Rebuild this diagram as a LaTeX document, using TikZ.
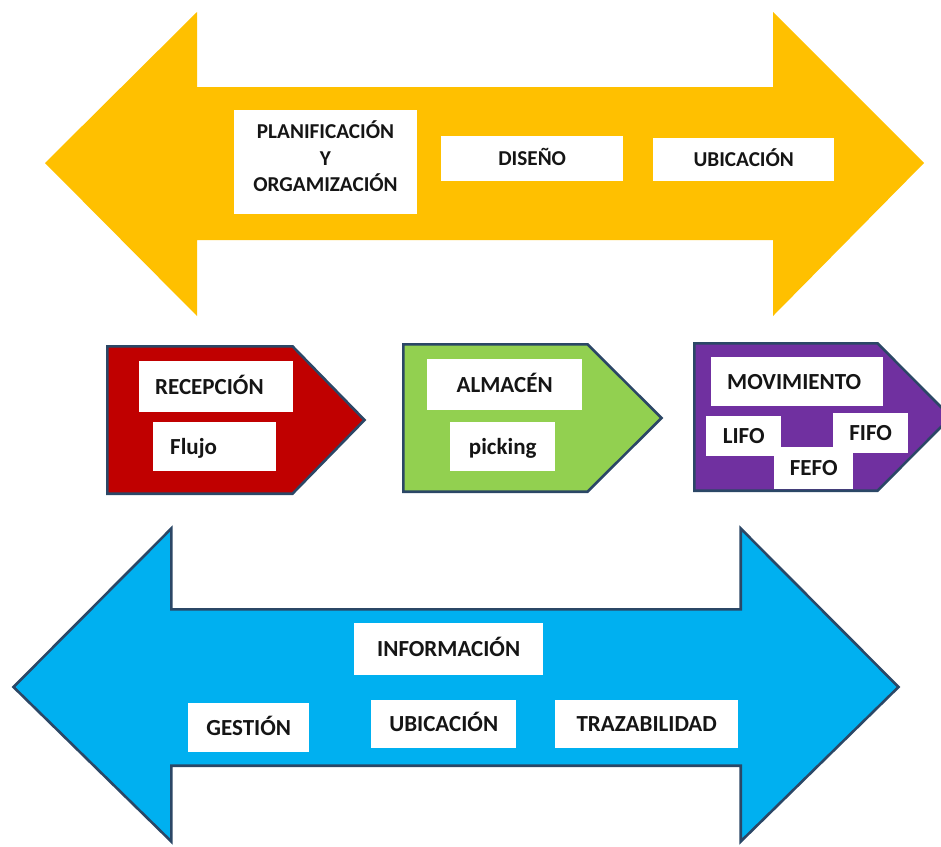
\documentclass[tikz,border=0pt]{standalone}
\usepackage{fontspec}
\setmainfont{Carlito}
\definecolor{amber}{HTML}{FFC000}
\definecolor{crimson}{HTML}{C00000}
\definecolor{leaf}{HTML}{92D050}
\definecolor{violet}{HTML}{7030A0}
\definecolor{sky}{HTML}{00B0F0}
\definecolor{outl}{HTML}{2B4766}
\definecolor{ink}{HTML}{151515}
\begin{document}
\begin{tikzpicture}[x=1pt,y=-1pt,
  edge/.style={draw=outl, line width=2.6pt, line join=miter},
  wbox/.style={fill=white, inner sep=0pt, anchor=north west,
    font=\bfseries\fontsize{23}{28}\selectfont, text=ink,
    text height=14.6pt, text depth=0pt},
  smallbox/.style={wbox, font=\bfseries\fontsize{21.2}{26.5}\selectfont,
    text height=13.6pt},
  lbox/.style 2 args={wbox, inner xsep=#1, text width=#2, align=left},
  label/.style={inner sep=0pt, font=\bfseries\fontsize{21.2}{26.5}\selectfont,
    text=ink, align=center}]
\useasboundingbox (0,0) rectangle (941,846);

% top double arrow
\fill[amber] (45,163) -- (197,12) -- (197,87) -- (773,87) -- (773,12)
  -- (924,163) -- (773,316) -- (773,240) -- (197,240) -- (197,316) -- cycle;

% bottom double arrow
\path[edge, fill=sky] (13.5,687) -- (171.3,528.5) -- (171.3,609.3) -- (740.7,609.3)
  -- (740.7,528.5) -- (898.5,687) -- (740.7,841.5) -- (740.7,765.7)
  -- (171.3,765.7) -- (171.3,841.5) -- cycle;

% process pentagons
\path[edge, fill=crimson] (107.3,346.3) -- (292.5,346.3) -- (364.5,420)
  -- (292.5,493.7) -- (107.3,493.7) -- cycle;
\path[edge, fill=leaf] (403.3,344.3) -- (587.5,344.3) -- (661.5,418)
  -- (587.5,491.7) -- (403.3,491.7) -- cycle;
\path[edge, fill=violet] (694.3,343.3) -- (877.5,343.3) -- (951,417)
  -- (877.5,490.7) -- (694.3,490.7) -- cycle;

% labels on the top arrow
\node[smallbox, minimum width=183, minimum height=104] (plan) at (234,110) {};
\node[label] (plantxt) at (325.5,156.5) {PLANIFICACIÓN\\Y\\ORGAMIZACIÓN};
\node[smallbox, minimum width=182, minimum height=45] (dis) at (441,136) {DISEÑO};
\node[smallbox, minimum width=181, minimum height=43] (ubia) at (653,138) {UBICACIÓN};

% labels on the pentagons
\node[lbox={16pt}{122pt}, minimum width=154, minimum height=51] (rec) at (139,361) {RECEPCIÓN};
\node[lbox={17pt}{89pt}, minimum width=123, minimum height=49] (flu) at (153,422) {Flujo};
\node[wbox, minimum width=155, minimum height=51] (alm) at (427,359) {ALMACÉN};
\node[wbox, minimum width=105, minimum height=49] (pick) at (450,422) {picking};
\node[lbox={16pt}{140pt}, minimum width=172, minimum height=49] (mov) at (711,357) {MOVIMIENTO};
\node[wbox, minimum width=75, minimum height=40] (lifo) at (706,416) {LIFO};
\node[wbox, minimum width=75, minimum height=40] (fifo) at (833,413) {FIFO};
\node[wbox, minimum width=79, minimum height=42] (fefo) at (774,447) {FEFO};

% labels on the bottom arrow
\node[wbox, minimum width=189, minimum height=52] (info) at (354,623) {INFORMACIÓN};
\node[wbox, minimum width=121, minimum height=49] (ges) at (188,703) {GESTIÓN};
\node[wbox, minimum width=145, minimum height=48] (ubib) at (371,700) {UBICACIÓN};
\node[wbox, minimum width=183, minimum height=48] (traz) at (555,700) {TRAZABILIDAD};
\end{tikzpicture}
\end{document}
